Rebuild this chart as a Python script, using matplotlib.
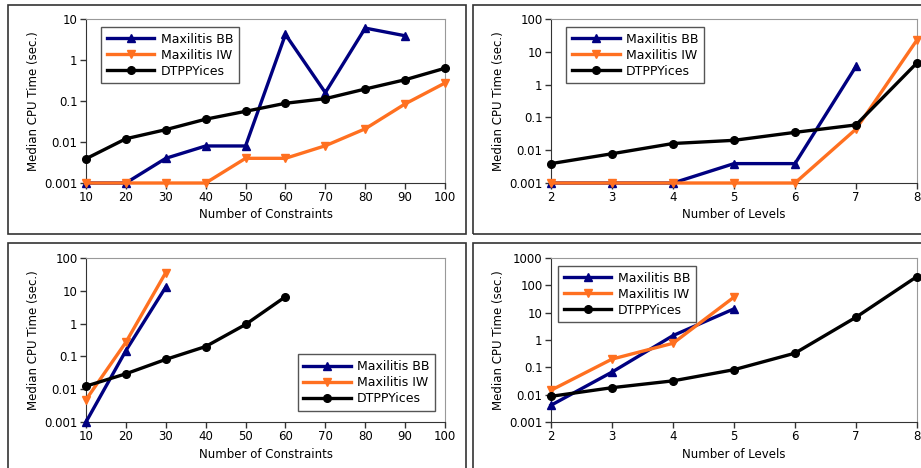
import numpy as np
import matplotlib
matplotlib.use("Agg")
from matplotlib import pyplot as plt
from matplotlib.patches import Rectangle

# data
cons_x = [10, 20, 30, 40, 50, 60, 70, 80, 90, 100]
tl_bb = [0.001, 0.001, 0.004, 0.008, 0.008, 4.2, 0.16, 6.0, 3.9]
tl_iw = [0.001, 0.001, 0.001, 0.001, 0.004, 0.004, 0.0081, 0.021, 0.085, 0.275]
tl_dtp = [0.0039, 0.012, 0.020, 0.036, 0.056, 0.088, 0.114, 0.196, 0.33, 0.63]

lev_x = [2, 3, 4, 5, 6, 7, 8]
tr_bb = [0.001, 0.001, 0.001, 0.0039, 0.0039, 3.6]
tr_iw = [0.001, 0.001, 0.001, 0.001, 0.001, 0.044, 23]
tr_dtp = [0.0039, 0.0078, 0.016, 0.020, 0.035, 0.059, 4.6]

bl_bb = [0.001, 0.15, 13]
bl_iw = [0.0048, 0.27, 36]
bl_dtp = [0.0124, 0.0295, 0.081, 0.20, 0.94, 6.6]

br_bb = [0.0041, 0.067, 1.45, 13.8]
br_iw = [0.0145, 0.20, 0.76, 37]
br_dtp = [0.0087, 0.018, 0.032, 0.082, 0.33, 6.8, 210]

names = ["Maxilitis BB", "Maxilitis IW", "DTPPYices"]
colors = ["#000080", "#ff7020", "#000000"]
markers = ["^", "v", "o"]

plt.rcParams['font.family'] = ['DejaVu Sans']
plt.rcParams['font.size'] = 8.5

fig = plt.figure(figsize=(9.21, 4.68), dpi=100)
W, H = 921, 468

# panel frames (pixel coords, top-left origin)
for (x0, y0, x1, y1) in [(8, 5, 466, 234), (473, 5, 930, 234),
                         (8, 243, 466, 480), (473, 243, 930, 480)]:
    fig.patches.append(Rectangle((x0 / W, 1 - y1 / H), (x1 - x0) / W, (y1 - y0) / H,
                                 transform=fig.transFigure, fill=False,
                                 edgecolor="#333333", linewidth=1.2, clip_on=False))


def panel(rect, xs, series, xlim, xticks, ylim, xlabel, legloc, anchor):
    ax = fig.add_axes(rect)
    for ys, name, c, m in zip(series, names, colors, markers):
        ax.plot(xs[:len(ys)], ys, color=c, marker=m, markersize=5.5, linewidth=2.4,
                label=name, clip_on=False, zorder=3)
    ax.set_yscale("log")
    ax.set_xlim(xlim)
    ax.set_ylim(ylim)
    ax.set_xticks(xticks)
    dec = np.arange(int(np.log10(ylim[0])), int(np.log10(ylim[1])) + 1)
    yt = [10.0 ** d for d in dec]
    ax.set_yticks(yt)
    ax.set_yticklabels(["%g" % v for v in yt])
    ax.yaxis.set_minor_locator(matplotlib.ticker.NullLocator())
    ax.set_xlabel(xlabel, labelpad=3)
    ax.set_ylabel("Median CPU Time (sec.)", labelpad=3)
    for s in ["top", "right"]:
        ax.spines[s].set_color("#999999")
    for s in ["left", "bottom"]:
        ax.spines[s].set_color("#333333")
    ax.tick_params(direction="out", length=4, width=1, color="#333333", pad=2)
    leg = ax.legend(loc=legloc, bbox_to_anchor=anchor, fancybox=False, framealpha=1,
                    edgecolor="#555555", handlelength=3.8, borderpad=0.45,
                    labelspacing=0.25, handletextpad=0.5, fontsize=9)
    leg.get_frame().set_linewidth(1.0)
    return ax


tl = [86 / W, 1 - 183 / H, 359 / W, 164 / H]
tr = [551 / W, 1 - 183 / H, 366 / W, 164 / H]
bl = [86 / W, 1 - 422 / H, 359 / W, 164 / H]
br = [551 / W, 1 - 422 / H, 366 / W, 164 / H]

panel(tl, cons_x, [tl_bb, tl_iw, tl_dtp], (10, 100), cons_x, (0.001, 10),
      "Number of Constraints", "upper left", (0.025, 0.99))
panel(tr, lev_x, [tr_bb, tr_iw, tr_dtp], (2, 8), lev_x, (0.001, 100),
      "Number of Levels", "upper left", (0.025, 0.99))
panel(bl, cons_x, [bl_bb, bl_iw, bl_dtp], (10, 100), cons_x, (0.001, 100),
      "Number of Constraints", "lower right", (0.99, 0.03))
panel(br, lev_x, [br_bb, br_iw, br_dtp], (2, 8), lev_x, (0.001, 1000),
      "Number of Levels", "upper left", (0.003, 0.99))

fig.savefig("out.png", dpi=100)
